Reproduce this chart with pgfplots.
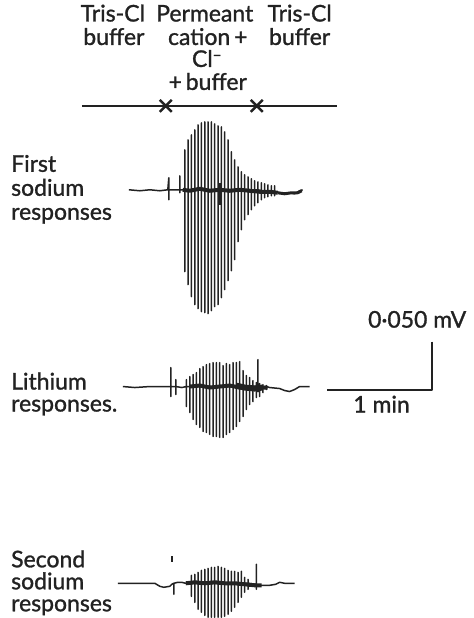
\documentclass[border=0pt]{standalone}
\usepackage{pgfplots}
\pgfplotsset{compat=1.18}
\usepackage{fontspec}
\setmainfont{Lato}[FakeBold=1.2]
\definecolor{ink}{HTML}{222222}
\begin{document}
\fontsize{23}{27}\selectfont
\begin{tikzpicture}
\begin{axis}[
  width=474pt, height=618pt, scale only axis,
  xmin=0, xmax=474, ymin=0, ymax=618, y dir=reverse,
  axis line style={draw=none}, xtick=\empty, ytick=\empty,
  clip=false,
  every axis plot/.append style={ink, line join=round},
]
% ---- top protocol line with crosses
\addplot[line width=2pt] coordinates {(82,106)(337,106)};
\addplot[only marks, mark=x, mark size=8.5pt, mark options={line width=2.4pt}] coordinates {(166,106)(257,106)};
% ---- First sodium responses (baseline y=190)
\addplot[line width=1.5pt] coordinates {
(129,190)(140,191)(150,190)(160,191)(168,190)(169,178)(169,200)(169,190)
(176,190)(180,190)(180,176)(180,193)(180,190)
(185.0,190)(185.0,150)(185.0,272)(185.0,190)
(188.3,190)(188.3,140)(188.3,285)(188.3,190)
(191.7,190)(191.7,135)(191.7,297)(191.7,190)
(195.0,190)(195.0,130)(195.0,305)(195.0,190)
(198.3,190)(198.3,125)(198.3,309)(198.3,190)
(201.7,190)(201.7,123)(201.7,312)(201.7,190)
(205.0,190)(205.0,122)(205.0,313)(205.0,190)
(208.3,190)(208.3,122)(208.3,314)(208.3,190)
(211.7,190)(211.7,122)(211.7,311)(211.7,190)
(215.0,190)(215.0,124)(215.0,307)(215.0,190)
(218.3,190)(218.3,126)(218.3,305)(218.3,190)
(221.7,190)(221.7,127)(221.7,298)(221.7,190)
(225.0,190)(225.0,132)(225.0,290)(225.0,190)
(228.3,190)(228.3,140)(228.3,281)(228.3,190)
(231.7,190)(231.7,152)(231.7,271)(231.7,190)
(235.0,190)(235.0,160)(235.0,260)(235.0,190)
(238.3,190)(238.3,167)(238.3,242)(238.3,190)
(241.7,190)(241.7,172)(241.7,230)(241.7,190)
(245.0,190)(245.0,175)(245.0,220)(245.0,190)
(248.3,190)(248.3,177)(248.3,215)(248.3,190)
(251.7,190)(251.7,179)(251.7,210)(251.7,190)
(255.0,190)(255.0,181)(255.0,206)(255.0,190)
(258.3,190)(258.3,182)(258.3,203)(258.3,190)
(261.7,191)(261.7,183)(261.7,200)(261.7,191)
(265.0,191)(265.0,184)(265.0,198)(265.0,191)
(268.3,192)(268.3,185)(268.3,197)(268.3,192)
(271.7,192)(271.7,186)(271.7,196)(271.7,192)
(275.0,192)(275.0,186)(275.0,196)(275.0,192)
(280,193)(285,194)(290,193)(295,194)(300,191)(303,190)};
\addplot[line width=4pt] coordinates {
(183,190)(190,191)(200,189)(210,191)(220,190)(230,191)(240,190)(250,191)(260,192)(270,192)(278,193)};
\addplot[line width=3pt] coordinates {(278,193)(285,194)(292,193)(298,193)(302,191)};
\addplot[line width=2pt] coordinates {(220,183)(220,205)};
% ---- Lithium responses (baseline y=387)
\addplot[line width=1.5pt] coordinates {
(123,387)(135,388)(150,387)(165,387)(171,387)(171,368)(171,397)(171,387)
(176,387)(176,380)(176,395)(176,387)(182,388)
(186.7,387)(186.7,380)(186.7,407)(186.7,387)
(190.0,387)(190.0,377)(190.0,413)(190.0,387)
(193.3,387)(193.3,375)(193.3,420)(193.3,387)
(196.7,387)(196.7,373)(196.7,425)(196.7,387)
(200.0,387)(200.0,369)(200.0,428)(200.0,387)
(203.3,387)(203.3,367)(203.3,432)(203.3,387)
(206.7,387)(206.7,365)(206.7,433)(206.7,387)
(210.0,387)(210.0,364)(210.0,435)(210.0,387)
(213.3,387)(213.3,363)(213.3,437)(213.3,387)
(216.7,387)(216.7,363)(216.7,437)(216.7,387)
(220.0,387)(220.0,363)(220.0,438)(220.0,387)
(223.3,387)(223.3,366)(223.3,438)(223.3,387)
(226.7,387)(226.7,364)(226.7,435)(226.7,387)
(230.0,387)(230.0,365)(230.0,433)(230.0,387)
(233.3,387)(233.3,363)(233.3,430)(233.3,387)
(236.7,387)(236.7,363)(236.7,427)(236.7,387)
(240.0,387)(240.0,362)(240.0,422)(240.0,387)
(243.3,387)(243.3,371)(243.3,417)(243.3,387)
(246.7,387)(246.7,376)(246.7,410)(246.7,387)
(250.0,387)(250.0,378)(250.0,405)(250.0,387)
(253.3,387)(253.3,381)(253.3,402)(253.3,387)
(256.7,387)(256.7,383)(256.7,398)(256.7,387)
(258.3,387)(258.3,360)(258.3,392)(258.3,387)
(260.0,387)(260.0,384)(260.0,397)(260.0,387)
(263.3,387)(263.3,385)(263.3,393)(263.3,387)
(266.7,387)(266.7,386)(266.7,390)(266.7,387)
(270,388)(280,389)(285,391)(290,392)(295,390)(300,387)(310,387)};
\addplot[line width=4pt] coordinates {
(190,387)(200,386)(210,388)(220,387)(230,386)(240,388)(250,388)(260,388)(268,388)};
\addplot[line width=6pt] coordinates {(236,386)(245,388)(255,389)(263,388)};
% ---- Second sodium responses (baseline y=584)
\addplot[line width=1.5pt] coordinates {
(118,584)(135,584)(150,584)(155,584)(160,587)(164,588)(170,587)(172,585)
(174,584)(174,595)(174,584)(178,583)(182,583)(186,584)
(191.7,584)(191.7,576)(191.7,597)(191.7,584)
(195.0,584)(195.0,575)(195.0,603)(195.0,584)
(198.3,584)(198.3,573)(198.3,610)(198.3,584)
(201.7,584)(201.7,571)(201.7,613)(201.7,584)
(205.0,584)(205.0,570)(205.0,616)(205.0,584)
(208.3,584)(208.3,569)(208.3,618)(208.3,584)
(211.7,584)(211.7,568)(211.7,618)(211.7,584)
(215.0,584)(215.0,568)(215.0,618)(215.0,584)
(218.3,584)(218.3,567)(218.3,618)(218.3,584)
(221.7,584)(221.7,568)(221.7,618)(221.7,584)
(225.0,584)(225.0,569)(225.0,617)(225.0,584)
(228.3,584)(228.3,571)(228.3,615)(228.3,584)
(231.7,584)(231.7,572)(231.7,612)(231.7,584)
(235.0,584)(235.0,572)(235.0,608)(235.0,584)
(238.3,584)(238.3,573)(238.3,603)(238.3,584)
(241.7,584)(241.7,572)(241.7,598)(241.7,584)
(245.0,584)(245.0,578)(245.0,593)(245.0,584)
(248.3,584)(248.3,580)(248.3,590)(248.3,584)
(256.7,585)(256.7,565)(256.7,590)(256.7,586)
(262,586)(270,586)(276,585)(280,583)(285,584)(295,584)};
\addplot[line width=2pt] coordinates {(172,557)(172,563)};
\addplot[line width=4pt] coordinates {
(186,584)(195,583)(205,584)(215,583)(225,584)(235,584)(245,585)(255,586)(262,586)};
% ---- scale bar
\addplot[line width=2pt] coordinates {(433,342)(433,390)(327,390)};
% ---- text
\begin{scope}[every node/.style={ink, inner sep=0pt}]
\node[anchor=base] at (axis cs:113,21.5) {Tris-Cl};
\node[anchor=base] at (axis cs:114,45) {buffer};
\node[anchor=base] at (axis cs:205,21.5) {Permeant};
\node[anchor=base] at (axis cs:208,45) {cation\,+};
\node[anchor=base] at (axis cs:207,67) {Cl\raisebox{0.55ex}{\fontsize{15}{15}\selectfont −}};
\node[anchor=base] at (axis cs:208,90) {+\,buffer};
\node[anchor=base] at (axis cs:300,21.5) {Tris-Cl};
\node[anchor=base] at (axis cs:300,45) {buffer};
\node[anchor=base west] at (axis cs:11,172) {First};
\node[anchor=base west] at (axis cs:11,196) {sodium};
\node[anchor=base west] at (axis cs:11,220) {responses};
\node[anchor=base west] at (axis cs:11,390) {Lithium};
\node[anchor=base west] at (axis cs:11,412) {responses.};
\node[anchor=base west] at (axis cs:11,568) {Second};
\node[anchor=base west] at (axis cs:11,590) {sodium};
\node[anchor=base west] at (axis cs:11,612) {responses};
\node[anchor=base east] at (axis cs:467,328) {0·050 mV};
\node[anchor=base] at (axis cs:382,413) {1 min};
\end{scope}
\end{axis}
\end{tikzpicture}
\end{document}
